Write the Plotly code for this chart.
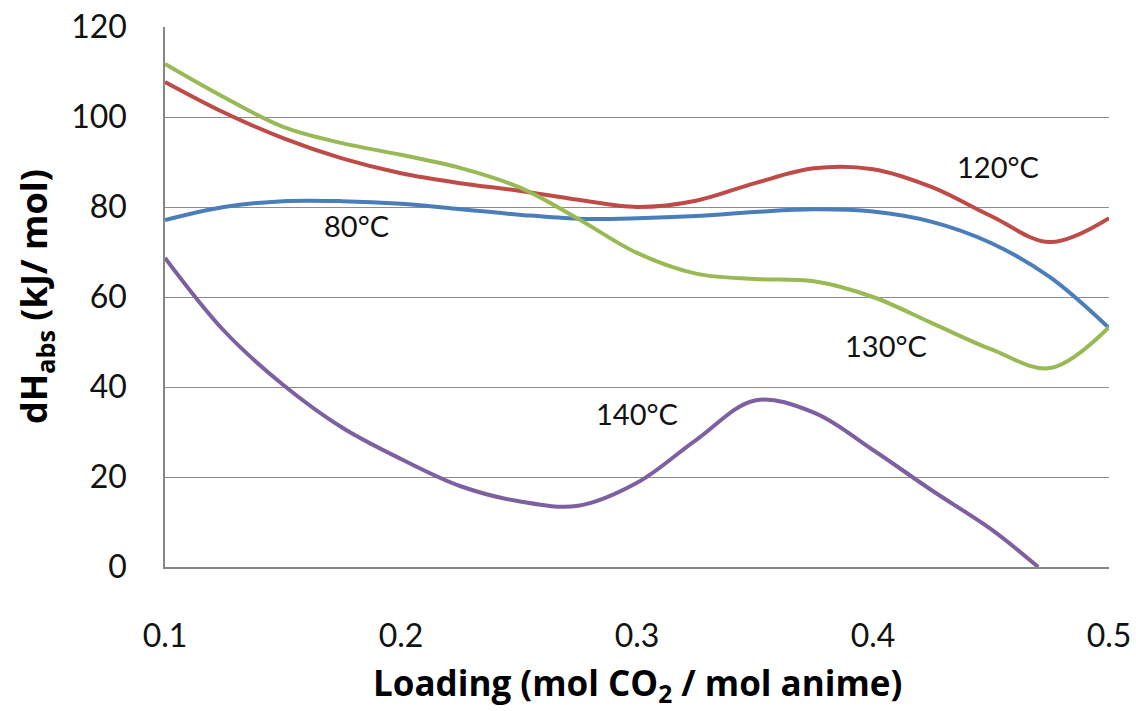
import plotly.graph_objects as go

loading = [0.1, 0.125, 0.15, 0.175, 0.2, 0.225, 0.25, 0.275, 0.3, 0.325, 0.35, 0.375, 0.4, 0.425, 0.45, 0.475, 0.5]

dh_80 = [77.1, 80.0, 81.3, 81.3, 80.7, 79.5, 78.3, 77.4, 77.5, 78.0, 78.9, 79.5, 79.0, 76.7, 72.0, 64.4, 53.1]
dh_120 = [107.8, 101.0, 95.3, 90.8, 87.5, 85.3, 83.6, 81.6, 80.0, 81.4, 85.3, 88.6, 88.4, 84.4, 78.0, 72.2, 77.5]
dh_130 = [111.8, 104.4, 97.8, 94.2, 91.6, 88.7, 84.4, 77.4, 69.8, 65.2, 64.0, 63.5, 60.0, 54.2, 48.4, 44.2, 53.3]

loading_140 = [0.1, 0.125, 0.15, 0.175, 0.2, 0.225, 0.25, 0.275, 0.3, 0.325, 0.35, 0.375, 0.4, 0.425, 0.45, 0.47]
dh_140 = [68.7, 52.5, 40.5, 31.0, 24.0, 18.0, 14.6, 13.6, 18.7, 28.2, 37.0, 34.3, 26.0, 17.0, 8.4, 0.0]

series = [
    ("80°C", loading, dh_80, "#4A7EBB"),
    ("120°C", loading, dh_120, "#BE4B48"),
    ("130°C", loading, dh_130, "#98B954"),
    ("140°C", loading_140, dh_140, "#7D60A0"),
]

labels = [("80°C", 0.181, 75.8), ("120°C", 0.453, 89.1), ("130°C", 0.4055, 49.3), ("140°C", 0.30, 34.2)]

x_ticks = [0.1, 0.2, 0.3, 0.4, 0.5]
x_ticktext = ["0.1", "0.2", "0.3", "0.4", "0.5"]
y_ticks = [0, 20, 40, 60, 80, 100, 120]

fig = go.Figure()
for name, xs, ys, color in series:
    fig.add_trace(go.Scatter(x=xs, y=ys, mode="lines", name=name,
                             line=dict(color=color, width=4, shape="spline", smoothing=1.0)))

for text, lx, ly in labels:
    fig.add_annotation(x=lx, y=ly, text=text, showarrow=False, xanchor="center", yanchor="middle",
                       font=dict(family="Lato", size=29, color="#111111"))

fig.add_annotation(xref="paper", yref="paper", x=0.5, y=0, yshift=-117, text="Loading (mol CO<sub>2</sub> / mol anime)",
                   showarrow=False, xanchor="center", yanchor="middle",
                   font=dict(family="Open Sans", size=35, color="#000000", weight="bold"))
fig.add_annotation(xref="paper", yref="paper", x=0, y=0.5, xshift=-130, text="dH<sub>abs</sub> (kJ/ mol)",
                   showarrow=False, xanchor="center", yanchor="middle", textangle=-90,
                   font=dict(family="Open Sans", size=36, color="#000000", weight="bold"))

fig.update_layout(
    width=1136, height=711,
    margin=dict(l=165, r=27, t=27, b=144, autoexpand=False),
    paper_bgcolor="white", plot_bgcolor="white",
    showlegend=False,
    font=dict(family="Lato", color="#111111"),
)
fig.update_xaxes(range=[0.1, 0.5], tickvals=x_ticks, ticktext=x_ticktext, showgrid=False,
                 showline=True, linecolor="#868686", linewidth=1.5, ticks="", automargin=False,
                 tickfont=dict(family="Lato", size=32), ticklabelstandoff=40, zeroline=False)
fig.update_yaxes(range=[0, 120], tickvals=y_ticks, showgrid=True, gridcolor="#8c8c8c", gridwidth=1,
                 showline=True, linecolor="#868686", linewidth=1.5, ticks="", automargin=False,
                 tickfont=dict(family="Lato", size=32), ticklabelstandoff=30, zeroline=False)

fig.write_html("out.html", config={"displayModeBar": False})

with open("out.html", "r", encoding="utf-8") as f:
    html = f.read()
html = html.replace("<body>", '<body style="margin:0;padding:0;overflow:hidden">', 1)
with open("out.html", "w", encoding="utf-8") as f:
    f.write(html)
